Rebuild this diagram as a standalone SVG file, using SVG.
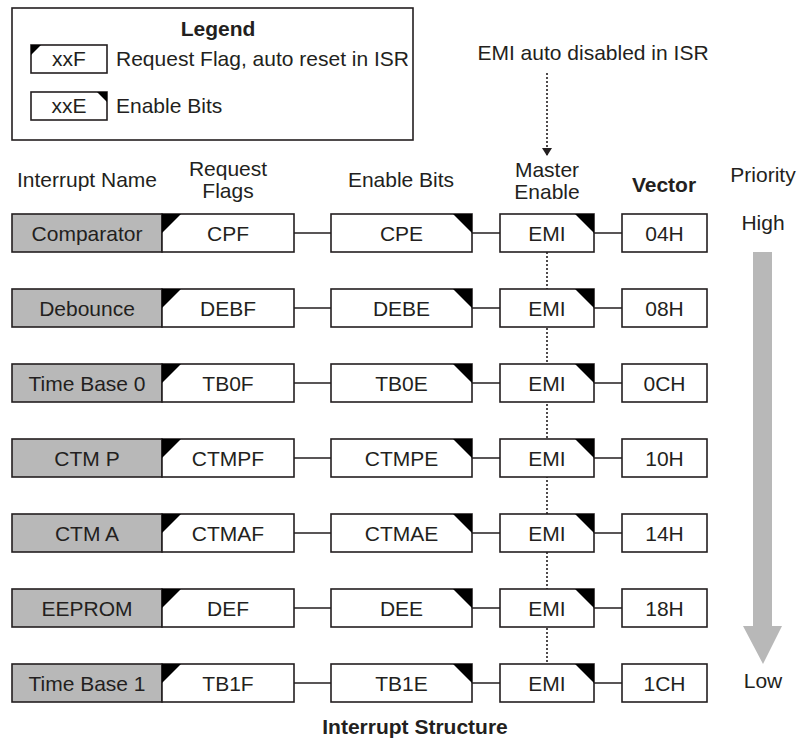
<svg xmlns="http://www.w3.org/2000/svg" width="798" height="738" viewBox="0 0 798 738">
<style>
text{font-family:"Liberation Sans",Arial,sans-serif;font-size:21px;fill:#231f20;text-anchor:middle}
.b{font-weight:bold}
.l{text-anchor:start}
.box{fill:#fff;stroke:#231f20;stroke-width:1.6}
.name{fill:#b8b8b8;stroke:#231f20;stroke-width:1.6}
.tri{fill:#000}
.con{stroke:#231f20;stroke-width:1.6;fill:none}
.dot{stroke:#231f20;stroke-width:1.6;stroke-dasharray:2 2;fill:none}
</style>
<defs>
<marker id="ah" markerWidth="10" markerHeight="10" refX="8" refY="5" orient="auto" markerUnits="userSpaceOnUse">
<path d="M0,0 L8,5 L0,10 Z" fill="#231f20"/>
</marker>
</defs>
<rect width="798" height="738" fill="#fff"/>

<g id="legend">
<rect x="12" y="8" width="401" height="132" fill="#fff" stroke="#231f20" stroke-width="1.6"/>
<text x="218" y="36" class="b">Legend</text>
<rect class="box" x="31" y="45" width="76" height="28"/>
<path class="tri" d="M31,45 L41,45 L31,55 Z"/>
<text x="69" y="66">xxF</text>
<text x="116" y="66" class="l">Request Flag, auto reset in ISR</text>
<rect class="box" x="31" y="92" width="76" height="28"/>
<path class="tri" d="M97,92 L107,92 L107,102 Z"/>
<text x="69" y="113">xxE</text>
<text x="116" y="113" class="l">Enable Bits</text>
</g>

<g id="headers">
<text x="87" y="187">Interrupt Name</text>
<text x="228" y="176">Request</text>
<text x="228" y="198">Flags</text>
<text x="401" y="187">Enable Bits</text>
<text x="547" y="177">Master</text>
<text x="547" y="199">Enable</text>
<text x="664" y="192" class="b">Vector</text>
<text x="763" y="182">Priority</text>
<text x="593" y="60">EMI auto disabled in ISR</text>
<text x="763" y="230">High</text>
<text x="763" y="688">Low</text>
<text x="415" y="734" class="b">Interrupt Structure</text>
</g>

<g id="connectors">
<line class="dot" x1="547" y1="73" x2="547" y2="156" marker-end="url(#ah)"/>
<line class="dot" x1="547" y1="252" x2="547" y2="664"/>
<path class="con" d="M294,233H331M472,233H500M594,233H622"/>
<path class="con" d="M294,308H331M472,308H500M594,308H622"/>
<path class="con" d="M294,383H331M472,383H500M594,383H622"/>
<path class="con" d="M294,458H331M472,458H500M594,458H622"/>
<path class="con" d="M294,533H331M472,533H500M594,533H622"/>
<path class="con" d="M294,608H331M472,608H500M594,608H622"/>
<path class="con" d="M294,683H331M472,683H500M594,683H622"/>
</g>

<g id="priority-arrow">
<path d="M753,252 H772 V626 H782 L763,664 L743,626 H753 Z" fill="#b8b8b8"/>
</g>

<g id="row-comparator" transform="translate(0,214)">
<rect class="name" x="12" y="0" width="150" height="38"/><text x="87" y="26.5">Comparator</text>
<rect class="box" x="162" y="0" width="132" height="38"/><path class="tri" d="M162,0 L181,0 L162,19 Z"/><text x="228" y="26.5">CPF</text>
<rect class="box" x="331" y="0" width="141" height="38"/><path class="tri" d="M453,0 L472,0 L472,19 Z"/><text x="401.5" y="26.5">CPE</text>
<rect class="box" x="500" y="0" width="94" height="38"/><path class="tri" d="M575,0 L594,0 L594,19 Z"/><text x="547" y="26.5">EMI</text>
<rect class="box" x="622" y="0" width="85" height="38"/><text x="664.5" y="26.5">04H</text>
</g>
<g id="row-debounce" transform="translate(0,289)">
<rect class="name" x="12" y="0" width="150" height="38"/><text x="87" y="26.5">Debounce</text>
<rect class="box" x="162" y="0" width="132" height="38"/><path class="tri" d="M162,0 L181,0 L162,19 Z"/><text x="228" y="26.5">DEBF</text>
<rect class="box" x="331" y="0" width="141" height="38"/><path class="tri" d="M453,0 L472,0 L472,19 Z"/><text x="401.5" y="26.5">DEBE</text>
<rect class="box" x="500" y="0" width="94" height="38"/><path class="tri" d="M575,0 L594,0 L594,19 Z"/><text x="547" y="26.5">EMI</text>
<rect class="box" x="622" y="0" width="85" height="38"/><text x="664.5" y="26.5">08H</text>
</g>
<g id="row-timebase0" transform="translate(0,364)">
<rect class="name" x="12" y="0" width="150" height="38"/><text x="87" y="26.5">Time Base 0</text>
<rect class="box" x="162" y="0" width="132" height="38"/><path class="tri" d="M162,0 L181,0 L162,19 Z"/><text x="228" y="26.5">TB0F</text>
<rect class="box" x="331" y="0" width="141" height="38"/><path class="tri" d="M453,0 L472,0 L472,19 Z"/><text x="401.5" y="26.5">TB0E</text>
<rect class="box" x="500" y="0" width="94" height="38"/><path class="tri" d="M575,0 L594,0 L594,19 Z"/><text x="547" y="26.5">EMI</text>
<rect class="box" x="622" y="0" width="85" height="38"/><text x="664.5" y="26.5">0CH</text>
</g>
<g id="row-ctmp" transform="translate(0,439)">
<rect class="name" x="12" y="0" width="150" height="38"/><text x="87" y="26.5">CTM P</text>
<rect class="box" x="162" y="0" width="132" height="38"/><path class="tri" d="M162,0 L181,0 L162,19 Z"/><text x="228" y="26.5">CTMPF</text>
<rect class="box" x="331" y="0" width="141" height="38"/><path class="tri" d="M453,0 L472,0 L472,19 Z"/><text x="401.5" y="26.5">CTMPE</text>
<rect class="box" x="500" y="0" width="94" height="38"/><path class="tri" d="M575,0 L594,0 L594,19 Z"/><text x="547" y="26.5">EMI</text>
<rect class="box" x="622" y="0" width="85" height="38"/><text x="664.5" y="26.5">10H</text>
</g>
<g id="row-ctma" transform="translate(0,514)">
<rect class="name" x="12" y="0" width="150" height="38"/><text x="87" y="26.5">CTM A</text>
<rect class="box" x="162" y="0" width="132" height="38"/><path class="tri" d="M162,0 L181,0 L162,19 Z"/><text x="228" y="26.5">CTMAF</text>
<rect class="box" x="331" y="0" width="141" height="38"/><path class="tri" d="M453,0 L472,0 L472,19 Z"/><text x="401.5" y="26.5">CTMAE</text>
<rect class="box" x="500" y="0" width="94" height="38"/><path class="tri" d="M575,0 L594,0 L594,19 Z"/><text x="547" y="26.5">EMI</text>
<rect class="box" x="622" y="0" width="85" height="38"/><text x="664.5" y="26.5">14H</text>
</g>
<g id="row-eeprom" transform="translate(0,589)">
<rect class="name" x="12" y="0" width="150" height="38"/><text x="87" y="26.5">EEPROM</text>
<rect class="box" x="162" y="0" width="132" height="38"/><path class="tri" d="M162,0 L181,0 L162,19 Z"/><text x="228" y="26.5">DEF</text>
<rect class="box" x="331" y="0" width="141" height="38"/><path class="tri" d="M453,0 L472,0 L472,19 Z"/><text x="401.5" y="26.5">DEE</text>
<rect class="box" x="500" y="0" width="94" height="38"/><path class="tri" d="M575,0 L594,0 L594,19 Z"/><text x="547" y="26.5">EMI</text>
<rect class="box" x="622" y="0" width="85" height="38"/><text x="664.5" y="26.5">18H</text>
</g>
<g id="row-timebase1" transform="translate(0,664)">
<rect class="name" x="12" y="0" width="150" height="38"/><text x="87" y="26.5">Time Base 1</text>
<rect class="box" x="162" y="0" width="132" height="38"/><path class="tri" d="M162,0 L181,0 L162,19 Z"/><text x="228" y="26.5">TB1F</text>
<rect class="box" x="331" y="0" width="141" height="38"/><path class="tri" d="M453,0 L472,0 L472,19 Z"/><text x="401.5" y="26.5">TB1E</text>
<rect class="box" x="500" y="0" width="94" height="38"/><path class="tri" d="M575,0 L594,0 L594,19 Z"/><text x="547" y="26.5">EMI</text>
<rect class="box" x="622" y="0" width="85" height="38"/><text x="664.5" y="26.5">1CH</text>
</g>
</svg>
